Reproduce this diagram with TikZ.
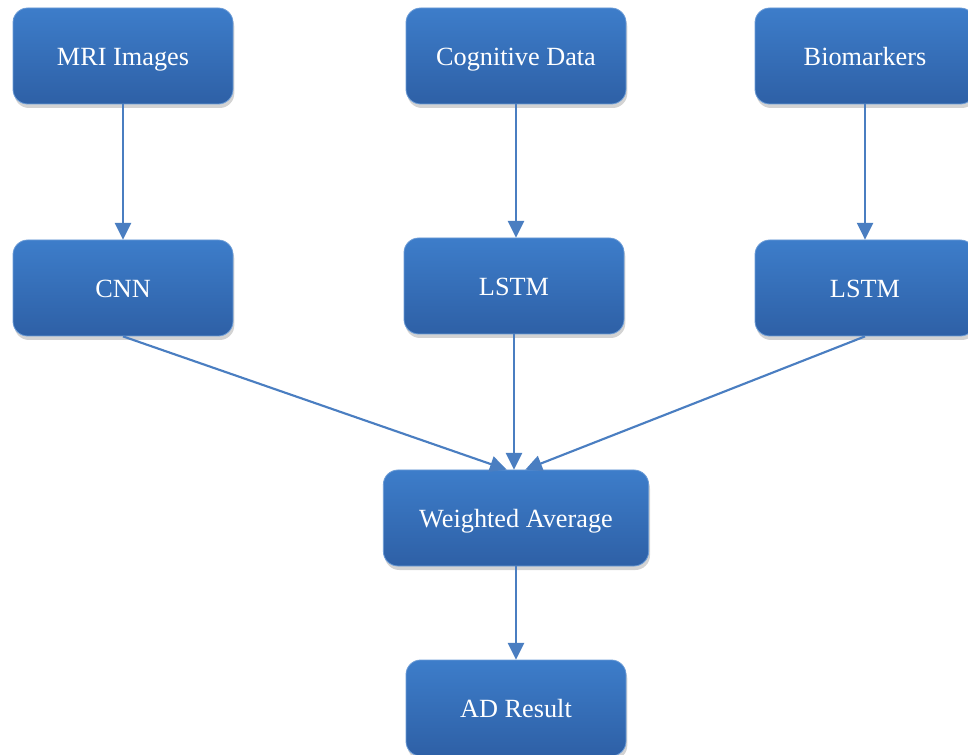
\documentclass[tikz,border=0pt]{standalone}
\usepackage{fontspec}
\setmainfont{Liberation Serif}
\usepackage{tikz}
\usetikzlibrary{arrows.meta,positioning,shadows}
\definecolor{boxtop}   {HTML}{3D7DCA}
\definecolor{boxbot}   {HTML}{2E60A6}
\definecolor{boxedge}  {HTML}{6C9CD6}
\definecolor{arrblue}  {HTML}{4A7EC1}
\tikzset{
  flowbox/.style ={draw=boxedge, line width=0.6pt, rounded corners=11pt,
                   top color=boxtop, bottom color=boxbot,
                   minimum width=165pt, minimum height=72pt,
                   align=center, text=white, inner sep=4pt,
                   text height=13.8pt, text depth=0pt,
                   font=\fontsize{19.7}{23}\selectfont,
                   drop shadow={opacity=0.35, shadow xshift=1pt, shadow yshift=-3pt}},
  flowarr/.style ={-{Triangle[length=12.5pt,width=12pt]}, line width=1.6pt, color=arrblue},
}

\begin{document}
\begin{tikzpicture}[x=0.75pt,y=-0.75pt]
        \useasboundingbox (0,0) rectangle (968,755);

        % inputs
        \node[flowbox] (mri) at (123,56) {MRI Images};
        \node[flowbox] (cog) at (516,56) {Cognitive Data};
        \node[flowbox] (bio) at (865,56) {Biomarkers};

        % models
        \node[flowbox] (cnn)  at (123,288) {CNN};
        \node[flowbox] (lstma) at (514,286) {LSTM};
        \node[flowbox] (lstmb) at (865,288) {LSTM};

        % fusion and output
        \node[flowbox,minimum width=199pt] (avg) at (516,518) {Weighted Average};
        \node[flowbox] (res) at (516,708) {AD Result};

        \draw[flowarr] (mri.south) -- (cnn.north);
        \draw[flowarr] (cog.south) -- (cog.south |- lstma.north);
        \draw[flowarr] (bio.south) -- (lstmb.north);

        \draw[flowarr] (cnn.south) -- ([xshift=-7pt]avg.north);
        \draw[flowarr] (lstma.south) -- (lstma.south |- avg.north);
        \draw[flowarr] (lstmb.south) -- ([xshift=7pt]avg.north);

        \draw[flowarr] (avg.south) -- (res.north);
      \end{tikzpicture}
\end{document}
